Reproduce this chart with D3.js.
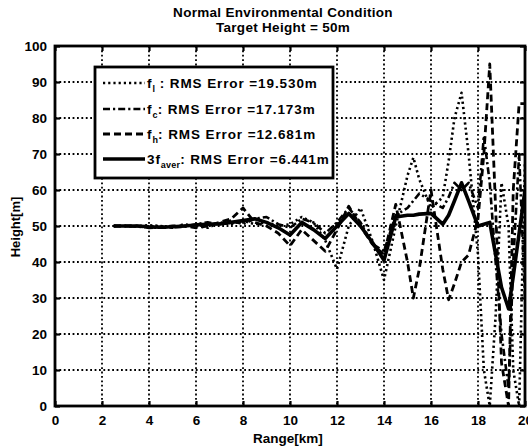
<!DOCTYPE html>
<html><head><meta charset="utf-8">
<script src="https://cdn.jsdelivr.net/npm/d3@7"></script>
<style>
body{margin:0;background:#fff}
svg text{font-family:"Liberation Sans",Arial,sans-serif;font-weight:bold;fill:#000}
</style>
</head><body>
<svg id="chart" width="528" height="447"></svg>
<script>
// ---- data ----
const rangeKm = [2.5,3,3.5,4,4.5,5,5.5,6,6.5,7,7.5,8,8.5,9,9.5,10,10.5,11,11.5,12,12.5,13,13.5,14,14.5,15,15.25,15.5,16,16.5,16.75,17,17.3,17.6,18,18.25,18.5,18.75,19,19.3,19.5,19.75,20];
const fL    = [50,50,50,50.2,50,49.5,50.5,50,49.5,51,50.5,51.5,50.5,51,50,50.5,52.5,51,46,38,50,55,46,35,50,64,69,63,55,58,68,80,87,70,42,10,0,25,62,50,10,0,68];
const fC    = [50,50,49.8,49.6,49.5,49.6,49.8,50.5,51,50.5,51.5,50.5,52,52.5,50.5,49.5,52,51,48,51,55,51,45,43,53,55,57,59,57,55,58,62,60,62,55,75,62,40,20,5,40,70,30];
const fH    = [50,50,50,49.5,49.6,50,50,49.5,50,51,52,55,51,50,48,44.5,49,46,43,49,55.5,50,45,42,56,40,30,38,60,38,29.5,34,40,42,52,70,95,55,12,0,60,84,84];
const fAver = [50,50,50,49.8,49.7,49.8,50,50.3,50.5,50.6,51,51.5,52,51,49.5,47.5,51,49,46.5,50,53.5,50,45.5,40.5,52.5,53,53,53.3,53.5,50.5,53,57,62,57,50,50.5,51,42,33,27,36,48,60];
const xTicks = [0,2,4,6,8,10,12,14,16,18,20];
const yTicks = [0,10,20,30,40,50,60,70,80,90,100];
const titleLines = ["Normal Environmental Condition","Target Height = 50m"];
const legendItems = [
  {name:"f", sub:"l", rms:" : RMS Error =19.530m"},
  {name:"f", sub:"c", rms:": RMS Error =17.173m"},
  {name:"f", sub:"h", rms:": RMS Error =12.681m"},
  {name:"3f", sub:"aver", rms:": RMS Error =6.441m"}
];

// ---- layout ----
const L=55, R=525, T=46, B=406;
const FONT="'Liberation Sans',Arial,sans-serif";
const svg = d3.select("#chart");
const x = d3.scaleLinear().domain([0,20]).range([L,R]);
const y = d3.scaleLinear().domain([0,100]).range([B,T]);

svg.append("defs").append("clipPath").attr("id","clip")
  .append("rect").attr("x",L).attr("y",T).attr("width",R-L).attr("height",B-T);

// grid
const grid = svg.append("g");
grid.selectAll(".gx").data(xTicks.slice(1,-1)).join("line")
  .attr("x1",d=>x(d)).attr("x2",d=>x(d)).attr("y1",T).attr("y2",B)
  .attr("stroke","#000").attr("stroke-width",1.8).attr("stroke-dasharray","1.8,2.6");
grid.selectAll(".gy").data(yTicks.slice(1,-1)).join("line")
  .attr("y1",d=>y(d)).attr("y2",d=>y(d)).attr("x1",L).attr("x2",R)
  .attr("stroke","#000").attr("stroke-width",1.8).attr("stroke-dasharray","1.8,2.6");

// series
const series = [
  {vals:fL, dash:"2.2,3", w:2.6},
  {vals:fC, dash:"7,3,2.2,3", w:2.6},
  {vals:fH, dash:"7,4", w:2.8},
  {vals:fAver, dash:null, w:3.6}
];
const line = d3.line().x((d,i)=>x(rangeKm[i])).y(d=>y(d));
const lg = svg.append("g").attr("clip-path","url(#clip)");
series.forEach(s=>{
  lg.append("path").datum(s.vals).attr("d",line)
    .attr("fill","none").attr("stroke","#000").attr("stroke-width",s.w)
    .attr("stroke-dasharray",s.dash).attr("stroke-linejoin","round");
});

// axes (inward ticks, box)
const axB = d3.axisBottom(x).tickValues(xTicks).tickSizeInner(-5).tickSizeOuter(0).tickPadding(9);
const axL = d3.axisLeft(y).tickValues(yTicks).tickSizeInner(-5).tickSizeOuter(0).tickPadding(8);
const axT = d3.axisTop(x).tickValues(xTicks).tickSizeInner(-5).tickSizeOuter(0).tickFormat("");
const axR = d3.axisRight(y).tickValues(yTicks).tickSizeInner(-5).tickSizeOuter(0).tickFormat("");
[[axB,`translate(0,${B})`],[axL,`translate(${L},0)`],[axT,`translate(0,${T})`],[axR,`translate(${R},0)`]].forEach(([a,t])=>{
  const g = svg.append("g").attr("transform",t).call(a);
  g.select(".domain").remove();
  g.selectAll("line").attr("stroke","#000").attr("stroke-width",2.2);
  g.selectAll("text").style("font-size","13.5px").style("font-family",FONT).style("font-weight","bold").attr("fill","#000");
});
svg.append("rect").attr("x",L).attr("y",T).attr("width",R-L).attr("height",B-T)
  .attr("fill","none").attr("stroke","#000").attr("stroke-width",2.8);

// title & labels
svg.selectAll(".title").data(titleLines).join("text")
  .attr("x",(L+R)/2-7).attr("y",(d,i)=>17+i*15).attr("text-anchor","middle")
  .style("font-size","13.5px").style("letter-spacing","0.3px").text(d=>d);
svg.append("text").attr("x",(L+R)/2-2).attr("y",443).attr("text-anchor","middle")
  .style("font-size","13.5px").text("Range[km]");
svg.append("text").attr("transform",`translate(20,227) rotate(-90)`).attr("text-anchor","middle")
  .style("font-size","13px").text("Height[m]");

// legend
const leg = svg.append("g");
leg.append("rect").attr("x",95).attr("y",67).attr("width",238).attr("height",111)
  .attr("fill","#fff").attr("stroke","#000").attr("stroke-width",2.8);
const rowY = [83,109,134,159];
legendItems.forEach((it,i)=>{
  const s = series[i];
  leg.append("line").attr("x1",103).attr("x2",145).attr("y1",rowY[i]).attr("y2",rowY[i])
    .attr("stroke","#000").attr("stroke-width",s.w).attr("stroke-dasharray",s.dash);
  const t = leg.append("text").attr("x",147).attr("y",rowY[i]+5)
    .style("font-size","13.5px").style("letter-spacing","0.9px");
  t.append("tspan").text(it.name);
  t.append("tspan").attr("dy",4).style("font-size","9px").style("letter-spacing","0.2px").text(it.sub);
  t.append("tspan").attr("dy",-4).text(it.rms);
});
</script>
</body></html>
